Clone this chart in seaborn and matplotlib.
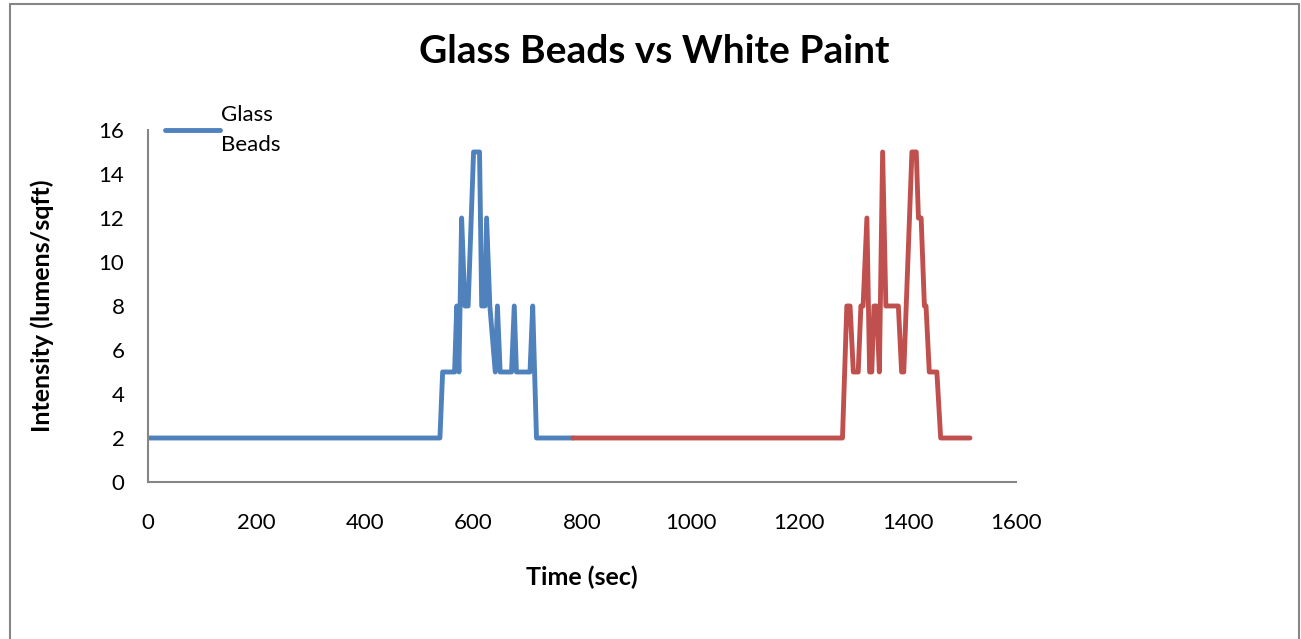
import pandas as pd
import matplotlib.pyplot as plt
from matplotlib.lines import Line2D
import seaborn as sns

# ─── DATA ─────────────────────────────────────────────────────────────────────
beads_time = [0, 538, 543, 565, 569, 573, 578, 584, 590, 600, 611, 615, 621,
              624, 630, 640, 644, 649, 670, 675, 679, 704, 709, 716, 783]
beads_intensity = [2, 2, 5, 5, 8, 5, 12, 8, 8, 15, 15, 8, 8,
                   12, 8, 5, 8, 5, 5, 8, 5, 5, 8, 2, 2]

paint_time = [783, 1280, 1288, 1294, 1300, 1309, 1314, 1318, 1325, 1330, 1334,
              1338, 1343, 1348, 1354, 1360, 1383, 1389, 1393, 1408, 1416, 1420,
              1425, 1431, 1434, 1440, 1454, 1461, 1515]
paint_intensity = [2, 2, 8, 8, 5, 5, 8, 8, 12, 5, 5,
                   8, 8, 5, 15, 8, 8, 5, 5, 15, 15, 12,
                   12, 8, 8, 5, 5, 2, 2]

x_ticks = [0, 200, 400, 600, 800, 1000, 1200, 1400, 1600]
y_ticks = [0, 2, 4, 6, 8, 10, 12, 14, 16]

# ─── STYLE ────────────────────────────────────────────────────────────────────
BLUE = '#4F81BD'
RED  = '#C0504D'
AXIS = '#868686'
LW   = 3.5

sns.set_theme(style='white')
plt.rcParams['font.family'] = ['Lato', 'DejaVu Sans']
plt.rcParams['text.color'] = 'black'
plt.rcParams['axes.labelcolor'] = 'black'

beads = pd.DataFrame({'time': beads_time, 'intensity': beads_intensity})
paint = pd.DataFrame({'time': paint_time, 'intensity': paint_intensity})

fig = plt.figure(figsize=(13.01, 6.39), dpi=100)
ax = fig.add_axes([0.1138, 0.2457, 0.6672, 0.5509])

line_kw = dict(linewidth=LW, solid_joinstyle='round', solid_capstyle='round',
               estimator=None, sort=False, ax=ax)
sns.lineplot(data=beads, x='time', y='intensity', color=BLUE, **line_kw)
sns.lineplot(data=paint, x='time', y='intensity', color=RED, **line_kw)

ax.set_xlim(0, 1600)
ax.set_ylim(0, 16)
ax.set_xticks(x_ticks)
ax.set_yticks(y_ticks)
ax.tick_params(axis='both', length=0, labelsize=16, colors='black')
ax.tick_params(axis='x', pad=22)
ax.tick_params(axis='y', pad=17)

for side in ['top', 'right']:
    ax.spines[side].set_visible(False)
for side in ['left', 'bottom']:
    ax.spines[side].set_color(AXIS)
    ax.spines[side].set_linewidth(1.5)

ax.set_xlabel('Time (sec)', fontsize=18, fontweight='bold', labelpad=24)
ax.set_ylabel('Intensity (lumens/sqft)', fontsize=18, fontweight='bold', labelpad=32)

fig.suptitle('Glass Beads vs White Paint', x=0.503, y=0.919, va='center',
             fontsize=28, fontweight='bold')

handle = Line2D([], [], color=BLUE, linewidth=LW, solid_capstyle='round')
leg = fig.legend([handle], ['Glass\nBeads'], loc='upper left',
                 bbox_to_anchor=(0.1185, 0.853), frameon=False, fontsize=16,
                 handlelength=2.45, handletextpad=0.05, borderpad=0, labelspacing=0)
for t in leg.get_texts():
    t.set_linespacing(1.6)

# chart-area frame (no bottom edge visible)
fx0, fx1, fy1 = 9.5 / 1301, 1299 / 1301, 1 - 4 / 639
for xs, ys in [([fx0, fx0], [0, fy1]), ([fx0, fx1], [fy1, fy1]), ([fx1, fx1], [fy1, 0])]:
    fig.add_artist(Line2D(xs, ys, color=AXIS, linewidth=1.5, transform=fig.transFigure))

fig.savefig('out.png', dpi=100, facecolor='white')
